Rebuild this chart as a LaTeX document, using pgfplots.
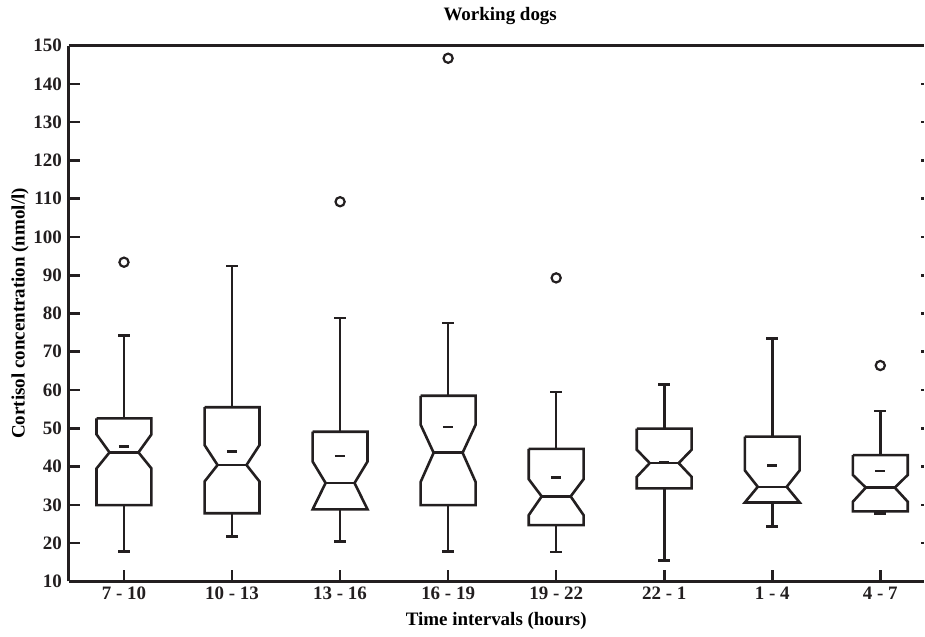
\documentclass[border=0pt]{standalone}
\usepackage{fontspec}
\setmainfont{Liberation Serif}
\usepackage{pgfplots}
\pgfplotsset{compat=1.18}

% notched box: position, low whisker, q1, low notch, median, up notch, q3, up whisker, mean
\newcommand\notchbox[9]{%
  \pgfmathsetmacro\xl{#1-0.254}\pgfmathsetmacro\xr{#1+0.254}%
  \pgfmathsetmacro\nl{#1-0.134}\pgfmathsetmacro\nr{#1+0.134}%
  \pgfmathsetmacro\cl{#1-0.055}\pgfmathsetmacro\cr{#1+0.055}%
  \pgfmathsetmacro\ml{#1-0.048}\pgfmathsetmacro\mr{#1+0.048}%
  \edef\nbtmp{%
    \noexpand\addplot[boxline] coordinates {(\xl,#7) (\xr,#7) (\xr,#6) (\nr,#5) (\xr,#4) (\xr,#3) (\xl,#3) (\xl,#4) (\nl,#5) (\xl,#6) (\xl,#7)};
    \noexpand\addplot[boxline] coordinates {(\nl,#5) (\nr,#5)};
    \noexpand\addplot[boxline] coordinates {(#1,#7) (#1,#8)};
    \noexpand\addplot[boxline] coordinates {(\cl,#8) (\cr,#8)};
    \noexpand\addplot[boxline] coordinates {(#1,#3) (#1,#2)};
    \noexpand\addplot[boxline] coordinates {(\cl,#2) (\cr,#2)};
    \noexpand\addplot[boxline] coordinates {(\ml,#9) (\mr,#9)};
  }\nbtmp}

\definecolor{ink}{RGB}{35,31,32}

\begin{document}
\begin{tikzpicture}[font=\fontsize{9.5}{11}\selectfont\bfseries]
\begin{axis}[
  width=428pt, height=268.3pt, scale only axis,
  xmin=0.49, xmax=8.4, ymin=10, ymax=150,
  axis lines*=left, clip=false,
  axis line style={ink, line width=1.5pt},
  tick align=inside, major tick length=5.5pt,
  tick style={ink, line width=1.3pt},
  xtick={1,...,8},
  xticklabels={7 - 10, 10 - 13, 13 - 16, 16 - 19, 19 - 22, 22 - 1, 1 - 4, 4 - 7},
  ytick={10,20,...,150},
  /pgf/number format/assume math mode=true,
  tick label style={font=\fontsize{9.5}{11}\selectfont\bfseries, text=ink},
  xticklabel style={anchor=base, yshift=-8.85pt},
  title={Working dogs},
  every axis title/.style={at={(axis description cs:0.5047,1.0466)}, anchor=base},
  xlabel={Time intervals (hours)},
  every axis x label/.style={at={(axis description cs:0.5,-0.0833)}, anchor=base},
  ylabel={Cortisol concentration (nmol/l)},
  every axis y label/.style={at={(axis description cs:-0.0572,0.5)}, rotate=90, anchor=center},
  boxline/.style={ink, line width=1.3pt, mark=none},
]
\draw[ink, line width=1.5pt] (rel axis cs:0,1) -- (rel axis cs:1,1);
\coordinate (bl) at (rel axis cs:0,0);
\coordinate (tr) at (rel axis cs:1,1);

\notchbox{1}{17.8}{29.9}{39.5}{43.7}{48.4}{52.6}{74.2}{45.2}
\notchbox{2}{21.7}{27.8}{36.1}{40.4}{45.6}{55.5}{92.4}{44.0}
\notchbox{3}{20.4}{28.8}{28.8}{35.7}{41.3}{49.1}{78.8}{42.8}
\notchbox{4}{17.8}{29.9}{36.0}{43.6}{50.9}{58.5}{77.5}{50.3}
\notchbox{5}{17.7}{24.7}{27.3}{32.2}{36.7}{44.6}{59.5}{37.1}
\notchbox{6}{15.4}{34.3}{37.3}{40.9}{44.4}{49.9}{61.5}{41.2}
\notchbox{7}{24.4}{30.6}{30.6}{34.7}{39.0}{47.8}{73.5}{40.2}
\notchbox{8}{27.8}{28.3}{30.8}{34.5}{37.8}{43.0}{54.5}{38.8}

\addplot[only marks, mark=o, mark size=2.3pt, ink, mark options={line width=1.1pt}]
  coordinates {(1,93.4) (3,109.2) (4,146.7) (5,89.3) (8,66.4)};
\end{axis}
\begin{axis}[
  overlay,
  width=428pt, height=268.3pt, scale only axis,
  xmin=0.49, xmax=8.4, ymin=10, ymax=150,
  hide x axis, axis y line*=right,
  y axis line style={draw=none},
  tick align=inside, major tick length=1.2pt,
  tick style={ink, line width=1.3pt},
  ytick={20,30,...,140}, yticklabels={},
]
\end{axis}
\path ([xshift=-34.5pt,yshift=-25.35pt]bl) rectangle ([yshift=22.85pt]tr);
\end{tikzpicture}
\end{document}
